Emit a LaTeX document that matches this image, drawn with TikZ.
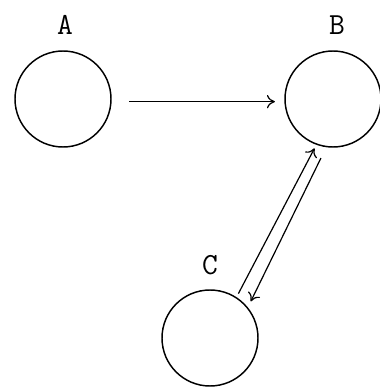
\documentclass[tikz,border=0pt]{standalone}
\usetikzlibrary{positioning,arrows.meta}

\tikzset{every picture/.style={line width=0.9pt}}
\tikzset{state/.style={draw,circle,line width=1.1pt,minimum size=72pt,inner sep=0pt}}
\tikzset{lbl/.style={inner sep=0.75pt,font=\fontsize{23}{26}\selectfont\ttfamily}}
\tikzset{flow/.style={-{To[length=6pt,width=10pt]}}}

\begin{document}
\begin{tikzpicture}[x=0.75pt,y=0.75pt,yscale=-1,xscale=1]
\useasboundingbox (0,0) rectangle (379,392);

%Shape: Circle [id:a] 
\node [state] (a) at (63,99) {};
%Shape: Circle [id:b] 
\node [state] (b) at (333,99) {};
%Shape: Circle [id:c] 
\node [state] (c) at (210,338) {};

%Straight Lines [id:ab] 
\draw [flow,shorten <=13pt,shorten >=7pt] ([yshift=2pt]a.east) -- ([yshift=2pt]b.west) ;
%Straight Lines [id:cb] 
\draw [flow,shorten <=3pt,shorten >=3pt] (c.57) -- (b.250) ;
%Straight Lines [id:bc] 
\draw [flow,shorten <=9pt,shorten >=5pt] (b.262) -- (c.39) ;

% Text Node
\node [lbl] (la) at (65,25) {A};
% Text Node
\node [lbl] (lb) at (337,25) {B};
% Text Node
\node [lbl] (lc) at (210,265) {C};

\end{tikzpicture}
\end{document}
